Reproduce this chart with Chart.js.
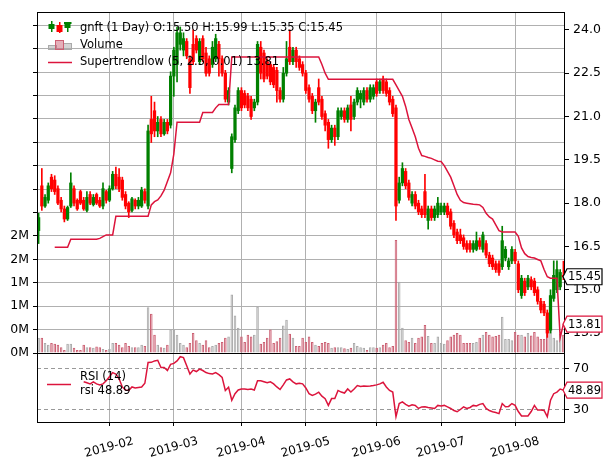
<!DOCTYPE html>
<html>
<head>
<meta charset="utf-8">
<script src="https://cdn.jsdelivr.net/npm/chart.js@4.4.1/dist/chart.umd.min.js"></script>
<style>
  html, body { margin: 0; padding: 0; background: #fff; }
  #wrap { position: relative; width: 611px; height: 465px; overflow: hidden; }
  #rsiBox { position: absolute; left: 0; top: 340px; width: 611px; height: 125px; }
  #mainBox { position: absolute; left: 0; top: 0; width: 611px; height: 365px; }
</style>
</head>
<body>
<div id="wrap">
  <div id="rsiBox"><canvas id="rsi" width="611" height="125"></canvas></div>
  <div id="mainBox"><canvas id="main" width="611" height="365"></canvas></div>
</div>
<script>
// trading days per month (Euronext, 2019)
const monthDays = [
  ['2019-01', [2,3,4,7,8,9,10,11,14,15,16,17,18,21,22,23,24,25,28,29,30,31]],
  ['2019-02', [1,4,5,6,7,8,11,12,13,14,15,18,19,20,21,22,25,26,27,28]],
  ['2019-03', [1,4,5,6,7,8,11,12,13,14,15,18,19,20,21,22,25,26,27,28,29]],
  ['2019-04', [1,2,3,4,5,8,9,10,11,12,15,16,17,18,23,24,25,26,29,30]],
  ['2019-05', [2,3,6,7,8,9,10,13,14,15,16,17,20,21,22,23,24,27,28,29,30,31]],
  ['2019-06', [3,4,5,6,7,10,11,12,13,14,17,18,19,20,21,24,25,26,27,28]],
  ['2019-07', [1,2,3,4,5,8,9,10,11,12,15,16,17,18,19,22,23,24,25,26,29,30,31]],
  ['2019-08', [1,2,5,6,7,8,9,12,13,14,15,16,19,20,21,22]]
];
const dates = [];
monthDays.forEach(([m, days]) => days.forEach(d => dates.push(m + '-' + String(d).padStart(2, '0'))));

const opens = [
  17.05,18.60,17.90,18.10,18.90,18.80,18.50,18.10,17.80,17.45,17.90,18.50,18.10,18.40,18.10,17.75,18.30,17.95,18.30,18.10,17.90,18.40,
  18.10,18.50,19.00,18.90,18.80,18.30,18.00,17.75,18.10,17.90,17.90,18.40,17.90,20.90,21.20,20.50,20.90,20.40,20.80,20.70,
  22.40,22.80,23.50,23.30,23.60,23.00,23.50,23.70,22.90,23.70,23.20,23.00,22.80,23.00,23.50,23.00,22.50,21.50,19.20,20.20,21.20,
  21.90,21.80,21.70,21.60,21.30,21.50,23.40,23.20,22.90,22.80,22.70,22.60,21.90,21.60,22.50,23.40,22.90,23.30,23.00,22.80,
  22.50,22.00,21.70,21.20,22.00,21.60,21.10,20.80,20.20,20.60,20.30,21.00,21.20,20.90,21.40,21.00,21.50,21.60,21.50,21.90,21.60,21.70,
  22.20,21.90,22.30,22.20,21.90,21.60,21.30,18.10,18.70,19.10,18.70,18.00,18.30,18.00,17.80,18.40,17.40,17.80,17.50,17.60,
  17.70,17.70,17.90,17.70,17.30,17.00,16.90,16.80,16.60,16.60,16.40,16.40,16.70,16.40,16.60,16.20,16.10,15.90,15.90,15.80,16.10,15.80,16.00,
  16.30,15.90,14.80,15.30,15.10,15.35,15.30,15.00,14.60,14.50,14.20,13.60,14.70,15.00,15.10,15.50
];
const closes = [
  17.50,17.90,18.20,18.60,18.50,18.40,18.00,17.80,17.45,17.85,18.70,18.00,17.80,18.00,17.80,18.20,18.00,18.20,18.00,17.90,18.50,18.10,
  18.50,19.00,18.60,18.50,18.20,17.90,17.70,18.15,17.90,18.10,18.45,18.10,20.50,20.40,20.50,20.80,20.40,20.80,20.50,22.40,
  23.30,23.90,23.90,23.70,23.10,22.00,22.90,23.30,23.60,23.00,22.50,22.50,23.40,23.70,23.00,22.50,21.60,21.90,20.30,21.30,21.90,
  21.30,21.40,21.30,21.00,21.50,23.50,22.50,22.30,22.40,22.20,22.10,21.90,21.60,22.50,23.00,22.90,23.30,22.90,22.70,22.50,
  21.90,21.60,21.20,21.50,21.50,21.00,20.70,20.20,20.60,20.30,21.20,21.20,20.90,21.30,20.90,21.50,21.90,21.80,21.90,21.60,22.00,22.00,
  21.80,22.20,21.90,21.80,21.50,21.10,17.90,18.70,19.20,18.60,18.20,18.30,17.90,17.70,17.60,17.60,17.80,17.50,17.80,18.00,
  17.90,17.90,17.60,17.20,16.90,16.70,16.70,16.50,16.40,16.40,16.60,16.70,16.50,16.90,16.20,15.90,15.80,15.70,15.60,16.70,16.40,16.00,16.40,
  16.00,15.00,15.40,14.90,15.40,15.10,14.90,14.60,14.30,14.20,13.50,14.80,15.50,15.70,15.60,15.45
];
const highs = [
  17.65,19.20,18.30,18.70,19.00,18.95,18.60,18.20,17.90,17.90,19.05,18.60,18.15,18.45,18.20,18.40,18.40,18.30,18.35,18.20,18.70,18.45,
  18.60,19.10,19.25,19.20,18.90,18.40,18.05,18.20,18.15,18.20,18.55,18.50,20.70,21.70,21.50,21.00,21.00,20.90,20.90,22.55,
  23.40,24.10,24.10,23.90,23.70,23.10,24.00,23.80,23.70,23.80,23.40,23.10,23.60,23.85,23.60,23.10,22.60,22.00,20.40,21.40,22.00,
  22.00,21.90,21.80,21.70,21.60,23.60,23.60,23.30,23.00,22.90,22.80,22.70,22.00,22.70,23.60,24.00,23.40,23.40,23.10,22.90,
  22.60,22.10,21.80,21.60,22.30,21.70,21.20,20.90,20.70,20.70,21.30,21.30,21.30,21.40,21.70,21.60,22.00,21.90,22.00,22.00,22.10,22.10,
  22.30,22.30,22.40,22.30,22.00,21.70,21.40,18.90,19.40,19.20,18.80,18.40,18.40,18.10,17.90,19.00,17.90,17.90,17.90,18.20,
  18.00,18.00,18.00,17.80,17.40,17.10,17.10,16.90,16.70,16.70,16.70,17.00,16.80,17.00,16.70,16.30,16.20,16.00,16.00,17.20,16.50,16.10,16.50,
  16.40,16.00,15.50,15.40,15.50,15.45,15.40,15.10,14.70,14.60,14.30,15.00,16.00,16.00,15.70,15.99
];
const lows = [
  16.60,17.75,17.85,18.00,18.40,18.30,17.95,17.70,17.35,17.40,17.85,17.90,17.75,17.95,17.75,17.70,17.95,17.90,17.95,17.85,17.80,18.00,
  18.05,18.45,18.50,18.40,18.10,17.80,17.50,17.70,17.80,17.80,17.85,18.00,17.80,20.10,20.30,20.30,20.30,20.35,20.40,20.60,
  21.70,22.20,23.30,23.10,23.00,21.80,22.80,23.20,22.80,22.90,22.40,22.40,22.70,22.90,22.40,22.40,21.50,21.40,19.05,20.10,21.10,
  21.20,21.30,21.20,20.90,21.20,21.40,22.30,22.20,22.30,22.10,22.00,21.50,21.50,21.50,22.40,22.80,22.80,22.70,22.60,22.40,
  21.80,21.50,21.10,20.80,21.40,20.90,20.50,19.90,20.10,20.00,20.20,20.90,20.80,20.80,20.50,20.90,21.40,21.30,21.40,21.50,21.50,21.60,
  21.70,21.80,21.80,21.70,21.40,21.00,17.40,18.00,18.60,18.50,18.10,17.90,17.80,17.60,17.50,17.50,17.10,17.40,17.40,17.50,
  17.60,17.60,17.50,17.10,16.80,16.60,16.60,16.40,16.30,16.30,16.30,16.35,16.40,16.30,16.10,15.80,15.70,15.60,15.50,15.70,16.00,15.70,15.90,
  15.90,14.90,14.70,14.80,15.00,15.00,14.80,14.50,14.20,14.10,13.35,13.50,14.60,14.90,15.00,15.35
];
// volume in millions
const volumes = [
  0.26,0.26,0.17,0.14,0.17,0.16,0.14,0.10,0.05,0.16,0.16,0.09,0.05,0.05,0.14,0.10,0.10,0.09,0.11,0.10,0.07,0.05,
  0.07,0.17,0.17,0.14,0.10,0.17,0.12,0.10,0.10,0.10,0.14,0.12,0.78,0.67,0.31,0.14,0.10,0.09,0.14,0.40,
  0.40,0.31,0.17,0.14,0.10,0.17,0.34,0.22,0.17,0.14,0.22,0.10,0.12,0.14,0.17,0.19,0.26,0.28,1.00,0.64,0.43,
  0.28,0.19,0.31,0.28,0.31,0.79,0.16,0.19,0.26,0.40,0.17,0.20,0.26,0.47,0.57,0.33,0.26,0.12,0.12,0.26,
  0.19,0.28,0.19,0.14,0.12,0.17,0.19,0.17,0.09,0.10,0.10,0.10,0.08,0.07,0.09,0.17,0.12,0.10,0.09,0.05,0.10,0.10,
  0.09,0.10,0.14,0.17,0.10,0.12,1.93,1.22,0.43,0.22,0.19,0.26,0.17,0.26,0.28,0.48,0.29,0.17,0.17,0.28,
  0.17,0.16,0.22,0.28,0.31,0.34,0.31,0.17,0.17,0.17,0.17,0.19,0.26,0.31,0.36,0.31,0.28,0.29,0.31,0.62,0.24,0.24,0.22,
  0.36,0.31,0.31,0.28,0.34,0.30,0.36,0.28,0.24,0.24,0.43,0.40,0.26,0.22,0.33,0.31
];
// one row per month, groups of five
const supertrend = [
  null,null,null,null,null,  16.47,16.47,16.47,16.47,16.47,  16.75,16.75,16.75,16.75,16.75,  16.75,16.75,16.75,16.75,16.78,  16.84,16.90,
  16.90,16.90,17.55,17.55,17.55,  17.55,17.55,17.55,17.55,17.55,  17.55,17.55,17.55,17.94,18.05,  18.11,18.25,18.45,18.75,19.05,
  19.70,20.80,20.80,20.80,20.80,  20.80,20.80,20.80,20.80,21.14,  21.14,21.14,21.14,21.30,21.42,  21.42,21.42,21.42,23.06,23.06,  23.06,
  23.06,23.06,23.06,23.06,23.06,  23.06,23.06,23.06,23.06,23.06,  23.06,23.06,23.06,23.06,23.06,  23.06,23.06,23.06,23.06,23.06,
  23.06,23.06,23.06,23.06,23.06,  22.80,22.50,22.29,22.29,22.29,  22.29,22.29,22.29,22.29,22.29,  22.29,22.29,22.29,22.29,22.29,  22.29,22.29,
  22.29,22.29,22.29,22.29,22.29,  22.29,22.10,21.90,21.70,21.35,  20.90,20.60,20.30,19.90,19.65,  19.62,19.58,19.55,19.50,19.45,
  19.44,19.30,19.10,18.90,18.60,  18.30,18.10,18.02,18.00,17.98,  17.96,17.95,17.94,17.85,17.65,  17.52,17.45,17.25,17.05,17.00,  17.00,17.00,17.00,
  17.00,16.85,16.45,16.25,16.15,  16.12,16.10,16.05,16.00,15.70,  15.45,15.40,15.40,15.40,13.34,  13.81
];
const rsi = [
  null,null,null,null,null,  null,null,null,null,null,  null,null,null,null,57,  56,55,57,55,54,  55,58,
  62,66,64.6,60,52,  49,48.6,52,51,51.5,  52,55.6,75.8,76,77.4,  78,71,71,68,74,
  75,77.4,81.5,80.6,72.6,  64.6,68.4,67,69.4,68,  66,65,64.6,66,64,  61.4,48.6,51.8,39,45.4,  49,
  50,50,49.5,50,49,  58,58,57,56,57,  55,52,49.5,54,58.8,  59.8,57,55,55.5,55,
  51,45.4,43.8,45,46.9,  43,40.6,34,40.6,40.6,  48.6,47,46,50,47,  50,53.4,52.5,53,52.7,  53,53.4,
  54,55,56.6,52,48.6,  47,23,35.8,37.4,35,  33.2,34.5,34,31,32.5,  32.6,32,31.5,31,34,
  33.5,34,32.6,31,29,  27.8,30,32.6,31,32,  34,33.5,35,35.8,31,  29,27.8,27,26,35.8,  32.6,33,35.8,
  34,28,23.6,23.6,23.6,  28,34,29.4,29.4,29,  23,39,45.4,47,50,  48.89
];
const priceTicks = [13.5, 15.0, 16.5, 18.0, 19.5, 21.0, 22.5, 24.0];
const volTicks = [0, 0.4, 0.8, 1.2, 1.6, 2.0, 2.4, 2.8, 3.2, 3.6, 4.0, 4.4, 4.8, 5.2, 5.6];
const rsiTicks = [30, 70];

const FONT = 'DejaVu Sans';
const GRID = '#b0b0b0';
const UP = '#008000', DOWN = '#ff0000';
const ST = '#dc143c';
Chart.defaults.font.family = FONT;

const last = dates.length - 1;
const isUp = i => closes[i] >= opens[i];
const monthStart = i => i > 0 && dates[i].slice(0, 7) !== dates[i - 1].slice(0, 7);
const candleColor = dates.map((d, i) => isUp(i) ? UP : DOWN);
const fmt = v => (v == null ? NaN : v).toFixed(2);

function tag(ctx, x, y, text, edge) {
  const w = 39, h = 16, a = 4;
  ctx.save();
  ctx.beginPath();
  ctx.moveTo(x, y);
  ctx.lineTo(x + a, y - h / 2);
  ctx.lineTo(x + w, y - h / 2);
  ctx.lineTo(x + w, y + h / 2);
  ctx.lineTo(x + a, y + h / 2);
  ctx.closePath();
  ctx.fillStyle = '#fff';
  ctx.fill();
  ctx.lineWidth = 1.2;
  ctx.strokeStyle = edge;
  ctx.stroke();
  ctx.fillStyle = '#000';
  ctx.font = '11.5px "' + FONT + '"';
  ctx.textAlign = 'center';
  ctx.textBaseline = 'middle';
  ctx.fillText(text, x + a / 2 + w / 2, y + 0.5);
  ctx.restore();
}

const framePlugin = {
  id: 'frame',
  afterDraw(chart) {
    const { ctx, chartArea: a } = chart;
    ctx.save();
    ctx.strokeStyle = '#000';
    ctx.lineWidth = 1;
    ctx.strokeRect(a.left + 0.5, a.top + 0.5, a.right - a.left - 1, a.bottom - a.top);
    ctx.restore();
  }
};

const mainDecor = {
  id: 'mainDecor',
  afterDraw(chart) {
    const ctx = chart.ctx;
    const yp = chart.scales.yPrice;
    ctx.save();
    // legend
    ctx.font = '11.5px "' + FONT + '"';
    ctx.fillStyle = '#000';
    ctx.textBaseline = 'middle';
    ctx.textAlign = 'left';
    const head = 'gnft (1 Day) O:' + fmt(opens[last]) + ' H:' + fmt(highs[last]) +
      ' L:' + fmt(lows[last]) + ' C:' + fmt(closes[last]);
    ctx.fillText(head, 80, 28);
    ctx.fillText('Volume', 80, 45);
    ctx.fillText('Supertrendlow (5, 2.5, 0.01) ' + fmt(supertrend[last]), 80, 62);
    // candle icon
    ctx.fillStyle = UP;
    ctx.fillRect(51, 21, 1.5, 11); ctx.fillRect(48.5, 24, 6, 5);
    ctx.fillStyle = DOWN;
    ctx.fillRect(59, 22, 1.5, 11); ctx.fillRect(56.5, 25, 6, 7);
    ctx.fillStyle = UP;
    ctx.fillRect(67, 22, 1.5, 10); ctx.fillRect(64, 22, 7.5, 2); ctx.fillRect(64.5, 23, 6, 5);
    // volume icon
    ctx.lineWidth = 1;
    ctx.fillStyle = 'rgba(170,170,170,0.5)'; ctx.strokeStyle = '#aaaaaa';
    ctx.fillRect(48.5, 45.5, 8, 4); ctx.strokeRect(48.5, 45.5, 8, 4);
    ctx.fillRect(63.5, 43.5, 8, 6); ctx.strokeRect(63.5, 43.5, 8, 6);
    ctx.fillStyle = 'rgba(204,96,115,0.5)'; ctx.strokeStyle = '#cc6073';
    ctx.fillRect(55.5, 40.5, 8, 9); ctx.strokeRect(55.5, 40.5, 8, 9);
    // line icon
    ctx.strokeStyle = ST; ctx.lineWidth = 1.5;
    ctx.beginPath(); ctx.moveTo(48, 62.5); ctx.lineTo(72, 62.5); ctx.stroke();
    ctx.restore();
    // value tags
    tag(ctx, 563, yp.getPixelForValue(closes[last]), fmt(closes[last]), '#000');
    tag(ctx, 563, yp.getPixelForValue(supertrend[last]), fmt(supertrend[last]), ST);
  }
};

const rsiDecor = {
  id: 'rsiDecor',
  afterDraw(chart) {
    const ctx = chart.ctx;
    const y = chart.scales.y;
    ctx.save();
    ctx.strokeStyle = ST; ctx.lineWidth = 1.5;
    ctx.beginPath(); ctx.moveTo(47, 44.5); ctx.lineTo(71, 44.5); ctx.stroke();
    ctx.font = '11.5px "' + FONT + '"';
    ctx.fillStyle = '#000';
    ctx.textBaseline = 'middle';
    ctx.fillText('RSI (14)', 80, 37);
    ctx.fillText('rsi ' + fmt(rsi[last]), 80, 51);
    ctx.restore();
    tag(ctx, 563, y.getPixelForValue(rsi[last]), fmt(rsi[last]), ST);
  }
};

const tickFont = { family: FONT, size: 12.5 };
const dateFont = { family: FONT, size: 12 };

new Chart(document.getElementById('main'), {
  type: 'bar',
  data: {
    labels: dates,
    datasets: [
      { type: 'line', data: supertrend, yAxisID: 'yPrice', borderColor: ST, borderWidth: 1.5,
        pointRadius: 0, tension: 0, spanGaps: false, order: 0 },
      { data: opens.map((o, i) => [o, closes[i]]), yAxisID: 'yPrice', backgroundColor: candleColor,
        barThickness: 2.6, grouped: false, order: 1 },
      { data: lows.map((l, i) => [l, highs[i]]), yAxisID: 'yPrice', backgroundColor: candleColor,
        barThickness: 1, grouped: false, order: 2 },
      { data: volumes, yAxisID: 'yVol',
        backgroundColor: dates.map((d, i) => isUp(i) ? 'rgba(170,170,170,0.5)' : 'rgba(204,96,115,0.5)'),
        borderColor: dates.map((d, i) => isUp(i) ? '#aaaaaa' : '#cc6073'),
        borderWidth: 1, barPercentage: 0.8, categoryPercentage: 1, grouped: false, order: 3 }
    ]
  },
  options: {
    responsive: false, animation: false, devicePixelRatio: 1, events: [],
    layout: { padding: { top: 12, bottom: 12, left: 0, right: 0 } },
    plugins: { legend: { display: false }, tooltip: { enabled: false } },
    scales: {
      x: {
        offset: true,
        grid: { offset: false, drawTicks: false, color: c => monthStart(c.index) ? GRID : 'rgba(0,0,0,0)' },
        ticks: { display: false, autoSkip: false },
        border: { display: false },
        afterFit: s => { s.height = 0; }
      },
      yVol: {
        position: 'left', min: 0, max: 5.829,
        afterBuildTicks: s => { s.ticks = volTicks.map(v => ({ value: v })); },
        ticks: { font: tickFont, color: '#000', padding: 4,
          callback: v => v <= 2.01 ? Math.round(v) + 'M' : '' },
        grid: { color: GRID, tickColor: '#000', tickLength: 4 },
        border: { display: false },
        afterFit: s => { s.width = 37; }
      },
      yPrice: {
        position: 'right', min: 12.81, max: 24.62,
        afterBuildTicks: s => { s.ticks = priceTicks.map(v => ({ value: v })); },
        ticks: { font: tickFont, color: '#000', padding: 4, callback: v => v.toFixed(1) },
        grid: { drawOnChartArea: false, tickColor: '#000', tickLength: 4 },
        border: { display: false },
        afterFit: s => { s.width = 46; }
      }
    }
  },
  plugins: [framePlugin, mainDecor]
});

new Chart(document.getElementById('rsi'), {
  type: 'line',
  data: {
    labels: dates,
    datasets: [{ data: rsi, borderColor: ST, borderWidth: 1.5, pointRadius: 0, tension: 0 }]
  },
  options: {
    responsive: false, animation: false, devicePixelRatio: 1, events: [],
    layout: { padding: { top: 13, left: 37, right: 0, bottom: 0 } },
    plugins: { legend: { display: false }, tooltip: { enabled: false } },
    scales: {
      x: {
        offset: true,
        grid: { offset: false, tickLength: 4,
          color: c => monthStart(c.index) ? GRID : 'rgba(0,0,0,0)',
          tickColor: c => monthStart(c.index) ? '#000' : 'rgba(0,0,0,0)' },
        ticks: { autoSkip: false, minRotation: 15, maxRotation: 15, labelOffset: 24, padding: 8,
          font: dateFont, color: '#000',
          callback: (v, i) => monthStart(i) ? dates[i].slice(0, 7) : '' },
        border: { display: false },
        afterFit: s => { s.height = 43; }
      },
      y: {
        position: 'right', min: 17.8, max: 85.1,
        afterBuildTicks: s => { s.ticks = rsiTicks.map(v => ({ value: v })); },
        ticks: { font: tickFont, color: '#000', padding: 4, callback: v => String(v) },
        grid: { color: '#999999', tickColor: '#000', tickLength: 4 },
        border: { display: false, dash: [4, 3] },
        afterFit: s => { s.width = 46; }
      }
    }
  },
  plugins: [framePlugin, rsiDecor]
});
</script>
</body>
</html>
